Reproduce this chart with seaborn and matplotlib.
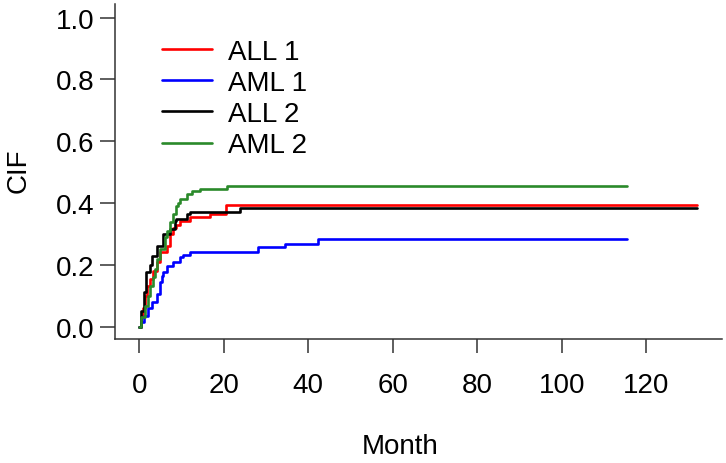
import numpy as np
import pandas as pd
import matplotlib
matplotlib.use("Agg")
import matplotlib.pyplot as plt
import seaborn as sns

# step curves (months, cumulative incidence)
all1_t = [0, 0.3, 0.8, 1.3, 1.8, 2.5, 3.2, 4.1, 4.9, 6.5, 7.2, 8.0, 8.6, 9.6, 12.0, 16.7, 20.5, 132]
all1_v = [0, 0.03, 0.06, 0.10, 0.13, 0.155, 0.18, 0.21, 0.24, 0.262, 0.30, 0.32, 0.33, 0.343, 0.355, 0.365, 0.393, 0.393]

aml1_t = [0, 0.5, 1.0, 2.1, 2.9, 4.1, 4.9, 5.3, 5.7, 6.5, 8.0, 9.6, 10.4, 12.0, 28.1, 34.5, 42.3, 115.5]
aml1_v = [0, 0.014, 0.036, 0.06, 0.08, 0.104, 0.144, 0.165, 0.176, 0.195, 0.21, 0.225, 0.232, 0.24, 0.257, 0.268, 0.283, 0.283]

all2_t = [0, 0.4, 1.0, 1.7, 2.5, 2.9, 4.1, 5.7, 7.3, 8.4, 8.8, 11.2, 12.0, 23.8, 132]
all2_v = [0, 0.05, 0.112, 0.177, 0.20, 0.23, 0.26, 0.30, 0.316, 0.342, 0.349, 0.365, 0.372, 0.385, 0.385]

aml2_t = [0, 0.4, 1.3, 2.0, 2.5, 3.2, 3.7, 4.3, 4.9, 6.1, 6.5, 7.2, 8.0, 8.6, 9.2, 9.6, 11.2, 12.5, 14.4, 20.7, 115.5]
aml2_v = [0, 0.03, 0.068, 0.10, 0.13, 0.16, 0.187, 0.22, 0.251, 0.29, 0.31, 0.34, 0.365, 0.39, 0.40, 0.413, 0.43, 0.44, 0.446, 0.455, 0.455]

groups = ["ALL 1", "AML 1", "ALL 2", "AML 2"]
colors = ["#ff0000", "#0000ff", "#000000", "#2a8a2a"]
x_ticks = [0, 20, 40, 60, 80, 100, 120]
y_ticks = [0.0, 0.2, 0.4, 0.6, 0.8, 1.0]

df = pd.concat([
    pd.DataFrame({"Month": all1_t, "CIF": all1_v, "group": "ALL 1"}),
    pd.DataFrame({"Month": aml1_t, "CIF": aml1_v, "group": "AML 1"}),
    pd.DataFrame({"Month": all2_t, "CIF": all2_v, "group": "ALL 2"}),
    pd.DataFrame({"Month": aml2_t, "CIF": aml2_v, "group": "AML 2"}),
], ignore_index=True)

sns.set_theme(style="ticks")
plt.rcParams["font.family"] = ["Liberation Sans", "DejaVu Sans"]
plt.rcParams["text.color"] = "black"
plt.rcParams["axes.labelcolor"] = "black"
plt.rcParams["xtick.labelcolor"] = "black"
plt.rcParams["ytick.labelcolor"] = "black"

fig = plt.figure(figsize=(7.26, 4.64), dpi=100)
ax = fig.add_axes([115 / 726, 124 / 464, 607 / 726, 335 / 464])

sns.lineplot(data=df, x="Month", y="CIF", hue="group", hue_order=groups,
             palette=colors, estimator=None, sort=False,
             drawstyle="steps-post", linewidth=1.9, ax=ax)

ax.set_xlim(-5.75, 137.9)
ax.set_ylim(-0.04, 1.044)
ax.set_xticks(x_ticks)
ax.set_yticks(y_ticks)
ax.set_yticklabels([f"{v:.1f}" for v in y_ticks])

for s in ["top", "right"]:
    ax.spines[s].set_visible(False)
for s in ["left", "bottom"]:
    ax.spines[s].set_color("#333333")
    ax.spines[s].set_linewidth(1.1)

ax.tick_params(axis="x", length=10, width=1.1, color="#333333", pad=14, labelsize=20)
ax.tick_params(axis="y", length=11, width=1.1, color="#333333", pad=3.5, labelsize=20)

ax.set_xlabel("Month", fontsize=20, va="center")
ax.set_ylabel("CIF", fontsize=20, va="center")
ax.xaxis.set_label_coords(0.47, -0.319)
ax.yaxis.set_label_coords(-0.158, 0.504)

handles, labels = ax.get_legend_handles_labels()
ax.legend(handles, labels, loc="upper left", bbox_to_anchor=(0.077, 0.897),
          frameon=False, fontsize=20, handlelength=1.8, handletextpad=0.58,
          labelspacing=0.19, borderpad=0, borderaxespad=0)

fig.savefig("out.png", dpi=100)
